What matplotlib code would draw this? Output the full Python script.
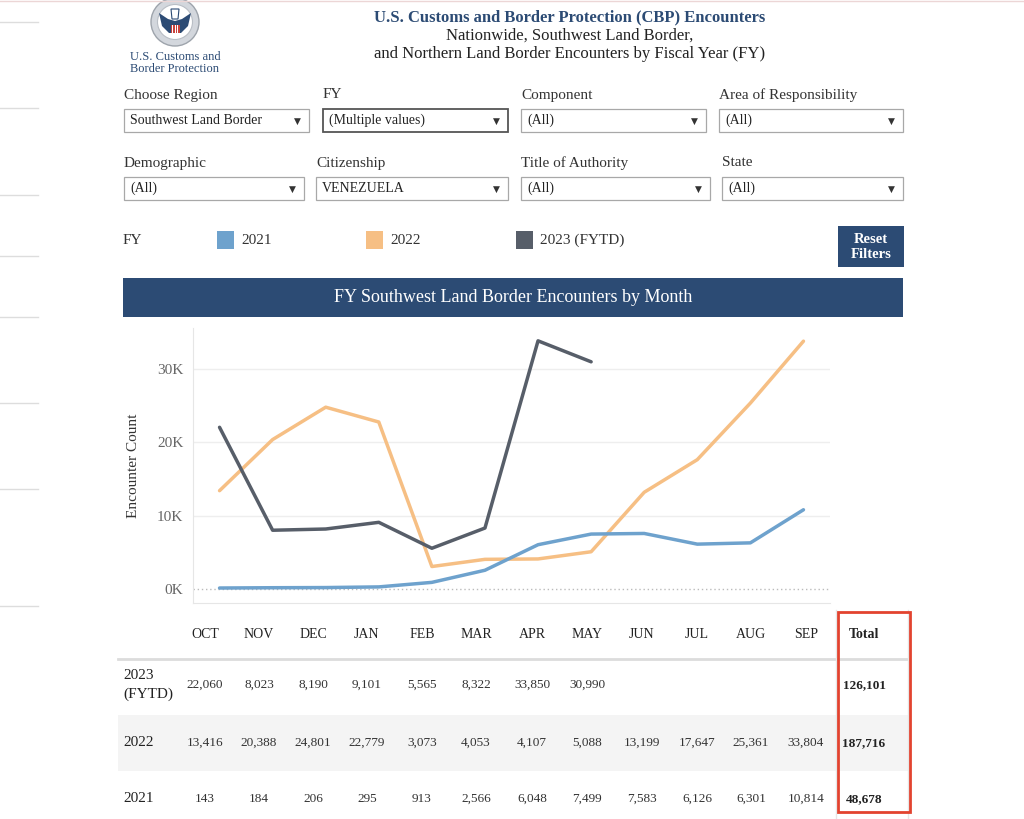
import matplotlib
matplotlib.use("Agg")
import matplotlib.pyplot as plt
from matplotlib.patches import Rectangle, Circle, Polygon
from matplotlib.ticker import FuncFormatter

plt.rcParams['font.family'] = ['Liberation Serif', 'DejaVu Serif']

meses = ['OCT', 'NOV', 'DEC', 'JAN', 'FEB', 'MAR', 'APR', 'MAY', 'JUN', 'JUL', 'AUG', 'SEP']
fy2023 = [22060, 8023, 8190, 9101, 5565, 8322, 33850, 30990]
fy2022 = [13416, 20388, 24801, 22779, 3073, 4053, 4107, 5088, 13199, 17647, 25361, 33804]
fy2021 = [143, 184, 206, 295, 913, 2566, 6048, 7499, 7583, 6126, 6301, 10814]
etiquetas_filas = ['2023\n(FYTD)', '2022', '2021']
series_tabla = [fy2023, fy2022, fy2021]

# Filtros del tablero
filtros_1 = [('Choose Region', 'Southwest Land Border'), ('FY', '(Multiple values)'),
             ('Component', '(All)'), ('Area of Responsibility', '(All)')]
filtros_2 = [('Demographic', '(All)'), ('Citizenship', 'VENEZUELA'),
             ('Title of Authority', '(All)'), ('State', '(All)')]
leyenda = ['2021', '2022', '2023 (FYTD)']

AZUL = '#6ea2cd'
NARANJA = '#f6bf84'
GRIS = '#575e69'
NAVY = '#2c4b74'
TXT = '#333333'

fig = plt.figure(figsize=(10.24, 8.19), dpi=100)
bg = fig.add_axes([0, 0, 1, 1])
bg.set_xlim(0, 1024)
bg.set_ylim(819, 0)
bg.axis('off')

# líneas laterales tenues
bg.plot([0, 1024], [0.5, 0.5], color='#ecd6d6', lw=1)
for yy in [22, 108, 195, 256, 317, 403, 489, 606]:
    bg.plot([0, 38], [yy, yy], color='#dddddd', lw=1)

# ---- Logo ----
bg.add_patch(Circle((175, 22), 24, facecolor='#d3d7dd', edgecolor='#9ea4ac', lw=1))
bg.add_patch(Circle((175, 22), 17.5, facecolor='white', edgecolor='#b9bec5', lw=0.8))
bg.add_patch(Polygon([[159, 13], [168, 19], [175, 21], [182, 19], [191, 13], [188, 26],
                      [181, 33], [169, 33], [162, 26]], closed=True,
                     facecolor=NAVY, edgecolor='none'))
bg.add_patch(Polygon([[171, 9], [179, 9], [178, 19], [172, 19]], closed=True,
                     facecolor='white', edgecolor=NAVY, lw=0.8))
bg.add_patch(Rectangle((170.5, 21), 9, 12, facecolor='#c9423c', edgecolor='none'))
for k in range(3):
    bg.add_patch(Rectangle((172 + k * 2.6, 25), 1.2, 8, facecolor='white', edgecolor='none'))
bg.add_patch(Rectangle((170.5, 21), 9, 4, facecolor=NAVY, edgecolor='none'))
bg.text(175, 57, 'U.S. Customs and', ha='center', va='center', fontsize=9, color=NAVY)
bg.text(175, 69, 'Border Protection', ha='center', va='center', fontsize=9, color=NAVY)

# ---- Encabezado ----
bg.text(570, 17, 'U.S. Customs and Border Protection (CBP) Encounters', ha='center', va='center',
        fontsize=12, fontweight='bold', color=NAVY)
bg.text(570, 36, 'Nationwide, Southwest Land Border,', ha='center', va='center', fontsize=12, color='#222222')
bg.text(570, 54, 'and Northern Land Border Encounters by Fiscal Year (FY)', ha='center', va='center',
        fontsize=12, color='#222222')

# ---- Filtros ----
def dropdown(x0, x1, y0, y1, etiqueta, valor, oscuro=False):
    bg.text(x0, y0 - 14, etiqueta, ha='left', va='center', fontsize=11, color=TXT)
    bg.add_patch(Rectangle((x0, y0), x1 - x0, y1 - y0, facecolor='white',
                           edgecolor='#555555' if oscuro else '#a8a8a8', lw=1.3 if oscuro else 0.9))
    bg.text(x0 + 6, (y0 + y1) / 2, valor, ha='left', va='center', fontsize=10, color='#222222')
    bg.text(x1 - 12, (y0 + y1) / 2 + 1, '▼', ha='center', va='center', fontsize=6.5,
            color='#333333', family='DejaVu Sans')

cajas_1 = [(124, 309), (323, 508), (521, 706), (719, 903)]
cajas_2 = [(124, 304), (316, 508), (521, 710), (722, 903)]
for i, (et, val) in enumerate(filtros_1):
    dropdown(cajas_1[i][0], cajas_1[i][1], 109, 132, et, val, oscuro=(i == 1))
for i, (et, val) in enumerate(filtros_2):
    dropdown(cajas_2[i][0], cajas_2[i][1], 177, 200, et, val)

# ---- Leyenda ----
bg.text(123, 240, 'FY', ha='left', va='center', fontsize=11, color=TXT)
pos_leyenda = [217, 366, 516]
for x0, nombre, col in zip(pos_leyenda, leyenda, [AZUL, NARANJA, GRIS]):
    bg.add_patch(Rectangle((x0, 231), 17, 18, facecolor=col, edgecolor='none'))
    bg.text(x0 + 24, 240, nombre, ha='left', va='center', fontsize=11, color=TXT)

bg.add_patch(Rectangle((838, 226), 66, 41, facecolor=NAVY, edgecolor='none'))
bg.text(871, 247, 'Reset\nFilters', ha='center', va='center', fontsize=10.5, fontweight='bold',
        color='white', linespacing=1.25)

# ---- Banda de título ----
bg.add_patch(Rectangle((123, 278), 780, 39, facecolor=NAVY, edgecolor='none'))
bg.text(513, 297, 'FY Southwest Land Border Encounters by Month', ha='center', va='center',
        fontsize=13, color='white')

# ---- Gráfico de líneas ----
ax = fig.add_axes([193 / 1024, 1 - 603 / 819, 637 / 1024, 275 / 819])
x = list(range(len(meses)))
ax.plot(x, fy2022, color=NARANJA, lw=2.5, solid_capstyle='round', zorder=3)
ax.plot(x, fy2021, color=AZUL, lw=2.5, solid_capstyle='round', zorder=4)
ax.plot(x[:len(fy2023)], fy2023, color=GRIS, lw=2.5, solid_capstyle='round', zorder=5)
ax.set_xlim(-0.5, 11.5)
ax.set_ylim(-1900, 35600)
ax.set_xticks([])
ax.set_yticks([0, 10000, 20000, 30000])
ax.yaxis.set_major_formatter(FuncFormatter(lambda v, p: f"{int(v / 1000)}K"))
ax.tick_params(axis='y', length=0, pad=7, labelsize=11, labelcolor='#666666')
for v in [10000, 20000, 30000]:
    ax.axhline(v, color='#eeeeee', lw=1, zorder=1)
ax.axhline(0, color='#bbbbbb', lw=1, ls=(0, (1, 2)), zorder=1)
for s in ['top', 'right']:
    ax.spines[s].set_visible(False)
for s in ['left', 'bottom']:
    ax.spines[s].set_color('#e6e6e6')
ax.set_ylabel('Encounter Count', fontsize=11, color=TXT)
ax.yaxis.set_label_coords(-0.083, 0.5)

# ---- Tabla ----
col_x = [205, 259, 313, 367, 422, 476, 532, 587, 642, 697, 751, 806]
x_total = 864
bg.add_patch(Rectangle((118, 715), 790, 56, facecolor='#f4f4f4', edgecolor='none'))
bg.plot([118, 908], [659, 659], color='#dcdcdc', lw=2)
bg.plot([836, 836], [610, 819], color='#e6e6e6', lw=1)
bg.plot([908, 908], [610, 819], color='#e6e6e6', lw=1)
for cx, m in zip(col_x, meses):
    bg.text(cx, 634, m, ha='center', va='center', fontsize=10, color='#222222')
bg.text(x_total, 634, 'Total', ha='center', va='center', fontsize=10, fontweight='bold', color='#222222')

fila_y = [685, 743, 799]
for fy, et, serie in zip(fila_y, etiquetas_filas, series_tabla):
    bg.text(123, fy, et, ha='left', va='center', fontsize=11, color='#222222', linespacing=1.5)
    for cx, v in zip(col_x, serie):
        bg.text(cx, fy, f"{v:,}", ha='center', va='center', fontsize=9.5, color=TXT)
    bg.text(x_total, fy, f"{sum(serie):,}", ha='center', va='center', fontsize=9.5,
            fontweight='bold', color='#222222')

bg.add_patch(Rectangle((838, 612), 72, 200, facecolor='none', edgecolor='#e2432f', lw=2, zorder=6))

fig.savefig('out.png', dpi=100)
